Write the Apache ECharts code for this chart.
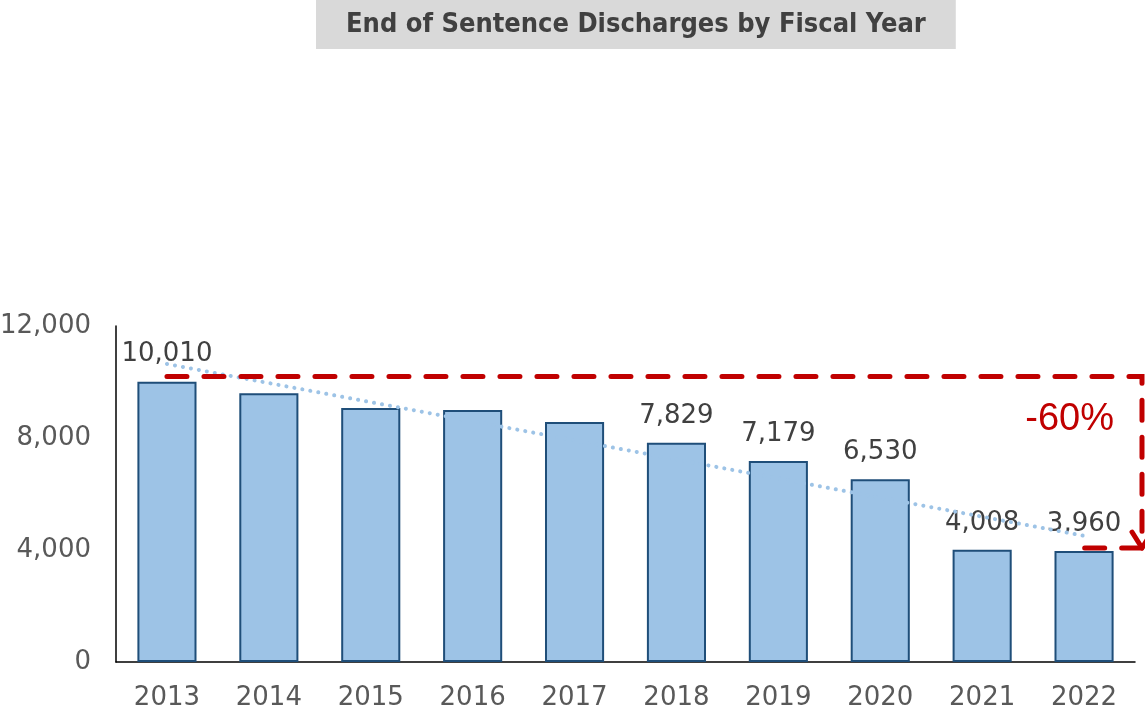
<!DOCTYPE html>
<html>
<head>
<meta charset="utf-8">
<script src="https://cdn.jsdelivr.net/npm/echarts@6/dist/echarts.min.js"></script>
<style>
html,body{margin:0;padding:0;background:#fff;}
#chart{width:1145px;height:711px;}
</style>
</head>
<body>
<div id="chart"></div>
<script>
// ---- data ----
const years = ['2013','2014','2015','2016','2017','2018','2019','2020','2021','2022'];
const discharges = [10010, 9600, 9070, 9000, 8570, 7829, 7179, 6530, 4008, 3960];
const showLabel = [true, false, false, false, false, true, true, true, true, true];
const yTicks = [0, 4000, 8000, 12000];
const titleText = 'End of Sentence Discharges by Fiscal Year';
const changeText = '-60%';
const bracketTop = 10200;    // value level of the upper dashed line
const bracketBottom = 4070;  // value level of the lower dashed line

// linear trend (least squares) of the series, as in the original trendline
function trend(vals){
  const n = vals.length;
  let sx=0, sy=0, sxy=0, sxx=0;
  vals.forEach((v,i)=>{sx+=i; sy+=v; sxy+=i*v; sxx+=i*i;});
  const b = (n*sxy - sx*sy)/(n*sxx - sx*sx);
  const a = (sy - b*sx)/n;
  return vals.map((v,i)=>a+b*i);
}
const trendVals = trend(discharges);

const chart = echarts.init(document.getElementById('chart'), null, {renderer:'canvas'});
const fmt = v => v.toLocaleString('en-US');
const RED = '#c00000';
const NUMFONT = '"DejaVu Sans", Verdana, sans-serif';

const option = {
  backgroundColor: '#ffffff',
  animation: false,
  title: {
    text: titleText,
    left: 316,
    top: 0,
    padding: [10, 30, 10, 30],
    backgroundColor: '#d9d9d9',
    textStyle: {
      fontFamily: '"DejaVu Sans Condensed", "Liberation Sans Narrow", sans-serif',
      fontWeight: 'bold',
      fontSize: 27,
      color: '#404040',
      lineHeight: 29
    }
  },
  grid: { left: 116, right: 10, top: 326, bottom: 49, containLabel: false, outerBoundsMode: 'none' },
  xAxis: {
    type: 'category',
    data: years,
    axisLine: { show: true, lineStyle: { color: '#000000', width: 1.5 } },
    axisTick: { show: false },
    axisLabel: {
      margin: 23,
      fontFamily: NUMFONT,
      fontSize: 26,
      color: '#595959'
    }
  },
  yAxis: {
    type: 'value',
    min: yTicks[0],
    max: yTicks[yTicks.length-1],
    interval: yTicks[1] - yTicks[0],
    splitLine: { show: false },
    axisLine: { show: true, lineStyle: { color: '#000000', width: 1.5 } },
    axisTick: { show: false },
    axisLabel: {
      margin: 25,
      fontFamily: NUMFONT,
      fontSize: 26,
      color: '#595959',
      formatter: v => fmt(v)
    }
  },
  series: [
    {
      type: 'bar',
      barWidth: '58%',
      data: discharges.map((v,i)=>({
        value: v,
        label: { show: showLabel[i] }
      })),
      itemStyle: { color: '#9dc3e6', borderColor: '#1f4e79', borderWidth: 2 },
      label: {
        position: 'top',
        distance: 14,
        fontFamily: NUMFONT,
        fontSize: 26,
        color: '#404040',
        formatter: p => fmt(p.value)
      },
      z: 2
    },
    {
      type: 'line',
      data: trendVals,
      symbol: 'none',
      silent: true,
      lineStyle: { color: '#9dc3e6', width: 4, type: [0.1, 8], cap: 'round' },
      z: 3
    }
  ]
};
chart.setOption(option);

// red bracket annotation, placed through the chart's own scales
function drawBracket(){
  const x0 = chart.convertToPixel({xAxisIndex:0}, years[0]);
  const x1 = chart.convertToPixel({xAxisIndex:0}, years[years.length-1]);
  const yTop = chart.convertToPixel({yAxisIndex:0}, bracketTop);
  const yBot = chart.convertToPixel({yAxisIndex:0}, bracketBottom);
  const grid = chart.getModel().getComponent('grid').coordinateSystem.getRect();
  const xr = grid.x + grid.width + 7;
  const dash = { stroke: RED, lineWidth: 5, lineDash: [20, 17], lineCap: 'round', fill: null };
  chart.setOption({
    graphic: [
      { type: 'polyline', z: 10, shape: { points: [[x0, yTop],[xr, yTop],[xr, yBot],[x1, yBot]] }, style: dash },
      { type: 'polyline', z: 10, shape: { points: [[xr-10, yBot-16],[xr, yBot],[xr+10, yBot-16]] },
        style: { stroke: RED, lineWidth: 5, lineCap: 'round', lineJoin: 'round', fill: null } },
      { type: 'text', z: 10, x: xr - 28, y: (yTop*0.75 + yBot*0.25),
        style: { text: changeText, fill: RED, fontSize: 38, fontFamily: 'Liberation Sans, Arial, sans-serif',
                 align: 'right', verticalAlign: 'middle' } }
    ]
  });
}
drawBracket();
</script>
</body>
</html>
